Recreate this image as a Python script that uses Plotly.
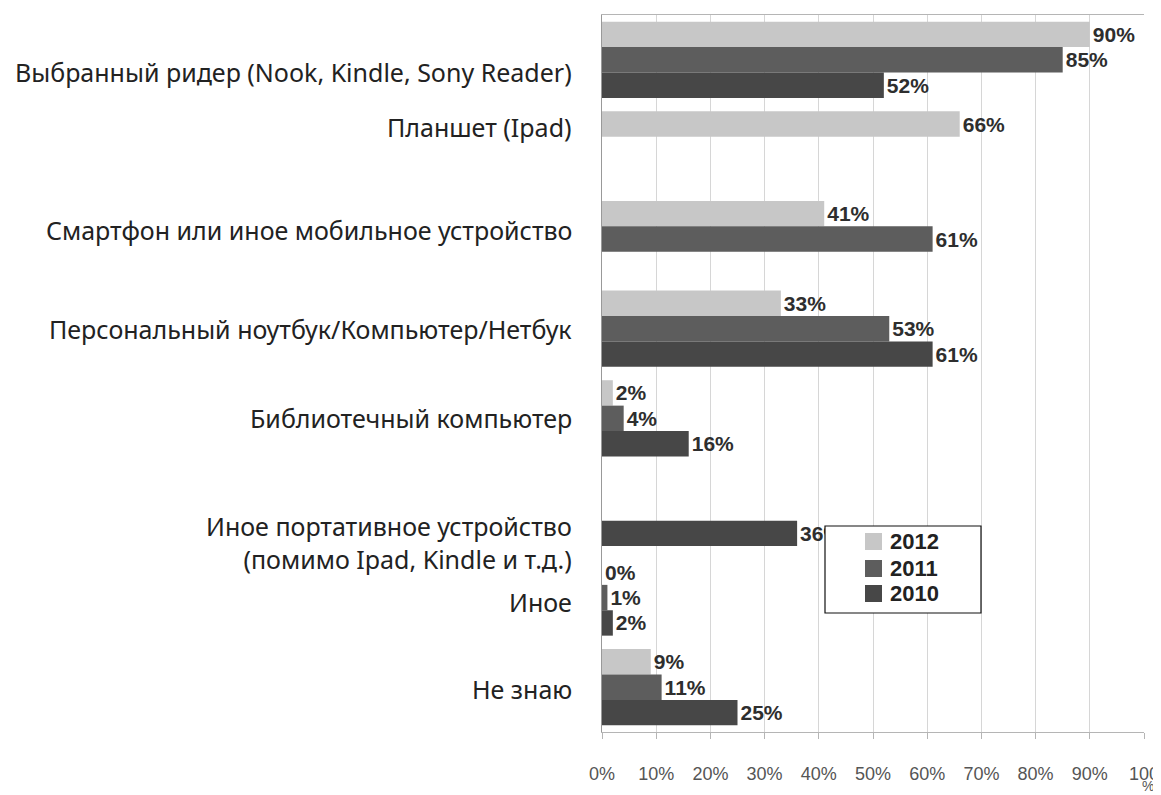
import plotly.graph_objects as go

categories = [
    "Выбранный ридер (Nook, Kindle, Sony Reader)",
    "Планшет (Ipad)",
    "Смартфон или иное мобильное устройство",
    "Персональный ноутбук/Компьютер/Нетбук",
    "Библиотечный компьютер",
    "Иное портативное устройство<br>(помимо Ipad, Kindle и т.д.)",
    "Иное",
    "Не знаю",
]
years = ["2012", "2011", "2010"]
values_2012 = [90, 66, 41, 33, 2, None, 0, 9]
values_2011 = [85, None, 61, 53, 4, None, 1, 11]
values_2010 = [52, None, None, 61, 16, 36, 2, 25]
x_tick_vals = [0, 10, 20, 30, 40, 50, 60, 70, 80, 90, 100]
x_tick_text = ["0%", "10%", "20%", "30%", "40%", "50%", "60%", "70%", "80%", "90%", "100"]

series = [values_2012, values_2011, values_2010]
colors = ["#c7c7c7", "#5d5d5d", "#474747"]

cat_keys = [f"c{i}" for i in range(len(categories))]

fig = go.Figure()
for name, vals, col in zip(years, series, colors):
    fig.add_trace(go.Bar(
        y=cat_keys, x=vals, name=name, orientation="h",
        marker=dict(color=col, line=dict(width=0)),
        text=[("" if v is None else f"{v}%") for v in vals],
        textposition="outside", cliponaxis=False,
        textfont=dict(family="Liberation Sans, Arial", size=21, color="#2e2e2e", weight="bold"),
        showlegend=False,
    ))

# page has an 8px body margin; compensate so the plot area sits at x 602-1144, y 15-732
OFF = 8
W, H = 1161 - OFF, 795 - OFF
PL, PR, PT, PB = 602, 1144, 15, 732
L, R, T, B = PL - OFF, W + OFF - PR, PT - OFF, H + OFF - PB
pw, ph = PR - PL, PB - PT

# category labels (left)
label_offsets = [0.14, -0.25, -0.10, 0.0, 0.0, 0.38, 0.05, 0.02]
annotations = []
for i, (c, off) in enumerate(zip(categories, label_offsets)):
    annotations.append(dict(
        text=c, xref="paper", x=0, xshift=-28, xanchor="right", align="right",
        yref="y", y=i + off, yanchor="middle", showarrow=False,
        font=dict(family="Noto Sans", size=25, color="#222222"),
    ))

def px_x(px):
    return (px - PL) / pw

def px_y(py):
    return (PB - py) / ph

# wrapped "%" of the last tick label
annotations.append(dict(text="%", xref="paper", yref="paper", x=px_x(1148), y=px_y(795),
                        xanchor="center", yanchor="bottom", showarrow=False, borderpad=0,
                        font=dict(family="Liberation Sans, Arial", size=14, color="#555555")))

shapes = [dict(type="rect", xref="paper", yref="paper", layer="above",
               x0=px_x(825), x1=px_x(981), y0=px_y(613), y1=px_y(526),
               line=dict(color="#111111", width=1.2), fillcolor="white")]
sw_top = [533, 560, 585]
for yr, col, top in zip(years, colors, sw_top):
    shapes.append(dict(type="rect", xref="paper", yref="paper", layer="above",
                       x0=px_x(865), x1=px_x(882), y0=px_y(top + 17), y1=px_y(top),
                       line=dict(width=0), fillcolor=col))
    annotations.append(dict(text=yr, xref="paper", yref="paper", x=px_x(888), y=px_y(top + 8.5),
                            xanchor="left", yanchor="middle", showarrow=False,
                            font=dict(family="Liberation Sans, Arial", size=22, color="#222222", weight="bold")))

fig.update_layout(
    width=W, height=H,
    margin=dict(l=L, r=R, t=T, b=B, pad=0),
    paper_bgcolor="white", plot_bgcolor="white",
    barmode="group", bargap=0.15, bargroupgap=0,
    annotations=annotations, shapes=shapes,
    xaxis=dict(range=[0, 100], tickvals=x_tick_vals, ticktext=x_tick_text,
               automargin=False,
               showgrid=True, gridcolor="#d6d6d6", gridwidth=1,
               showline=True, linecolor="#b5b5b5", linewidth=1, mirror=True,
               ticks="outside", ticklen=6, tickcolor="#b5b5b5",
               ticklabelstandoff=19,
               tickfont=dict(family="Liberation Sans, Arial", size=18, color="#555555"),
               zeroline=False),
    yaxis=dict(categoryorder="array", categoryarray=cat_keys, autorange="reversed",
               automargin=False,
               showticklabels=False, showgrid=False, showline=True, linecolor="#999999",
               linewidth=1, ticks="", zeroline=False),
)

fig.write_html("out.html")
